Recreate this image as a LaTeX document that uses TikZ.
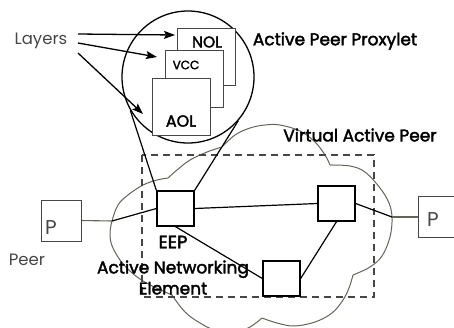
\documentclass[tikz,border=0pt]{standalone}
\usepackage{fontspec}
\setmainfont{Poppins}
\newfontfamily\demi[FakeBold=2.2]{Poppins}
\usetikzlibrary{arrows.meta,calc}
\definecolor{cloudc}{RGB}{100,100,88}
\definecolor{boxc}{RGB}{70,70,70}
\begin{document}
\begin{tikzpicture}[x=1pt,y=-1pt,
  dlbl/.style={font=\fontsize{17}{21}\selectfont\demi, inner sep=0},
  rlbl/.style={font=\fontsize{16.5}{18}\selectfont, inner sep=0, text=boxc},
  stackbox/.style={draw=boxc, fill=white, line width=1pt, minimum width=58pt, minimum height=57pt, inner sep=0},
  netbox/.style={draw=black, fill=white, line width=1.3pt, minimum width=37pt, minimum height=35pt, inner sep=0},
  peerbox/.style={draw=boxc, fill=white, line width=1pt, minimum width=40pt, minimum height=41pt, inner sep=0},
  link/.style={line width=1.2pt},
  plink/.style={draw=cloudc, line width=1.1pt},
  arr/.style={line width=1.3pt, -{Stealth[length=11pt,width=8pt,inset=2pt]}}]
\useasboundingbox (0,0) rectangle (454,327);
% cloud
\draw[cloudc, line width=1pt]
  plot[smooth, tension=0.6] coordinates {(172,295) (143,281) (124,265) (113,248) (110,235) (112,221) (118,205) (128,195) (143,185) (157,180) (168,178)}
  plot[smooth, tension=0.6] coordinates {(168,178) (177,170) (190,160) (207,152) (222,147)}
  plot[smooth, tension=0.6] coordinates {(222,147) (235,135) (250,128) (265,125) (280,125) (300,131) (315,142) (325,155) (330,165)}
  plot[smooth, tension=0.6] coordinates {(330,165) (350,166) (365,172) (380,188) (389,203) (392,218) (390,237) (382,256) (370,267) (353,275)}
  plot[smooth, tension=0.6] coordinates {(353,275) (349,288) (343,300) (332,313) (315,322) (294,326) (277,323) (262,318)}
  plot[smooth, tension=0.6] coordinates {(262,318) (250,327) (235,332) (215,330) (200,323) (185,312) (172,295)};
% virtual active peer boundary
\draw[boxc, line width=1.2pt, dash pattern=on 7pt off 5pt] (142,155) rectangle (374,297);
% proxylet circle and layer stack
\node[circle, draw, fill=white, line width=1.3pt, minimum size=132pt, inner sep=0] (c) at (188,77) {};
\node[stackbox] (nol) at (206,57) {};
\node[stackbox] (vcc) at (194.5,78.5) {};
\node[stackbox] (aol) at (181,106.5) {};
\node[dlbl, font=\fontsize{15.5}{18}\selectfont\demi] (noltxt) at (207,42) {NOL};
\node[dlbl, font=\fontsize{12}{14}\selectfont\demi] (vcctxt) at (186,65) {VCC};
\node[dlbl, font=\fontsize{16}{18}\selectfont\demi] (aoltxt) at (181,121) {AOL};
% network boxes
\node[netbox] (eep) at (175.5,208.5) {};
\node[netbox] (vr) at (336.5,203.5) {};
\node[netbox] (vb) at (281.5,278.5) {};
\node[peerbox] (pl) at (61,220.5) {};
\node[peerbox] (pr) at (438,217) {};
\node[font=\fontsize{20}{22}\selectfont, inner sep=0, text=boxc] (plt) at (51,228) {P};
\node[font=\fontsize{20}{22}\selectfont, inner sep=0, text=boxc] (prt) at (433,220) {P};
% cone
\draw[link] (eep.north west) -- (c.210);
\draw[link] (eep.north east) -- (c.-41);
% links
\coordinate (cl) at (112,221);
\coordinate (cr) at (392,217);
\draw[plink] (pl.east) -- (cl);
\draw[link] (cl) -- (eep.west);
\draw[link] (eep.east) -- (vr.west);
\draw[link] (vr.east) -- (cr);
\draw[plink] (cr) -- (pr.west);
\draw[link] (vr.south) -- (vb.east);
\draw[link] (eep.south) -- (vb.west);
% redraw boxes on top of links
\node[netbox] at (eep) {};
\node[netbox] at (vr) {};
\node[netbox] at (vb) {};
% layers arrows
\node[rlbl] (layers) at (41,41) {Layers};
\coordinate (s1) at (78,34);
\coordinate (s2) at (78,43);
\coordinate (s3) at (78,53);
\coordinate (t1) at (175,35);
\coordinate (t2) at (157,57);
\coordinate (t3) at (143,114);
\draw[arr] (s1) -- (t1);
\draw[arr] (s2) -- (t2);
\draw[arr] (s3) -- (t3);
% labels
\node[dlbl] (app) at (335,41) {Active Peer Proxylet};
\node[dlbl] (vap) at (360,135) {Virtual Active Peer};
\node[rlbl] (peer) at (27,260) {Peer};
\node[dlbl, font=\fontsize{18}{21}\selectfont\demi] (eeptxt) at (173,242) {EEP};
\node[dlbl, align=center] (anel) at (173,277.5) {Active Networking\\Element};
\end{tikzpicture}
\end{document}
